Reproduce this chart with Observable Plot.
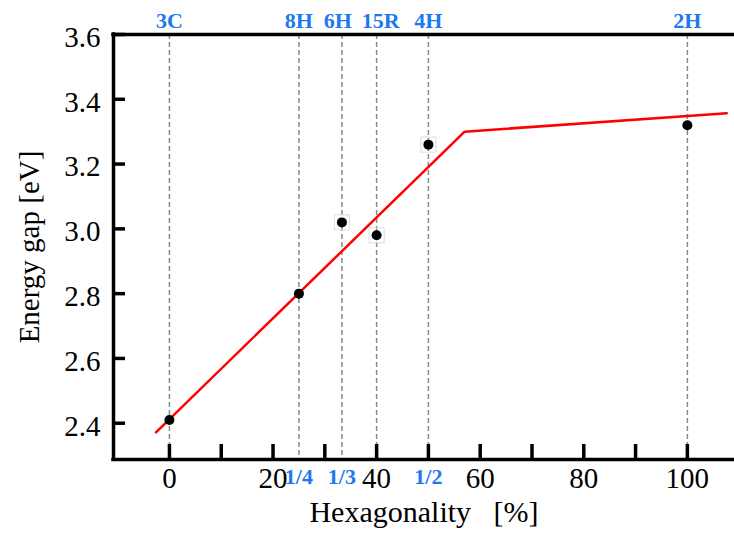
<!DOCTYPE html>
<html><head><meta charset="utf-8">
<script src="https://cdn.jsdelivr.net/npm/d3@7"></script>
<script src="https://cdn.jsdelivr.net/npm/@observablehq/plot@0.6"></script>
<style>body{margin:0;background:#fff} svg text{font-family:"Liberation Serif";}</style>
</head><body><div id="chart"></div>
<script>
// Data
const polytypes = ["3C", "8H", "6H", "15R", "4H", "2H"];
const hexagonality = [0, 25, 33.3, 40, 50, 100];
const energyGap = [2.41, 2.80, 3.02, 2.98, 3.26, 3.32];
const boxedPolytypes = ["6H", "15R", "4H"];
const fractionLabels = ["1/4", "1/3", "1/2"];
const fractionValues = [25, 33.3, 50];
const fitX = [-2.6, 57, 107.6];
const fitY = [2.372, 3.30, 3.357];
const xTickLabels = [0, 20, 40, 60, 80, 100];
const xTickMarks = [0, 10, 20, 30, 40, 50, 60, 70, 80, 90, 100];
const yTickLabels = [2.4, 2.6, 2.8, 3.0, 3.2, 3.4, 3.6];
const xDomain = [-10.8, 109.1];
const yDomain = [2.288, 3.6];

const points = polytypes.map((p, i) => ({label: p, x: hexagonality[i], y: energyGap[i]}));
const boxed = points.filter(d => boxedPolytypes.includes(d.label));
const fractions = fractionLabels.map((t, i) => ({text: t, x: fractionValues[i]}));
const fit = fitX.map((x, i) => ({x, y: fitY[i]}));

const W = 734, H = 538, mL = 113, mR = 0, mT = 34, mB = 79;
const serif = "Liberation Serif";
const blue = "#1e78f0";
const topLabel = {x: "x", text: "label", frameAnchor: "top", lineAnchor: "middle", dy: -14, fill: blue, fontWeight: "bold", fontSize: 22, fontFamily: serif};

const chart = Plot.plot({
  width: W, height: H,
  marginLeft: mL, marginRight: mR, marginTop: mT, marginBottom: mB,
  style: {fontFamily: serif, background: "#fff"},
  x: {domain: xDomain, label: null},
  y: {domain: yDomain, label: null},
  marks: [
    Plot.ruleX(points, {x: "x", stroke: "#888", strokeWidth: 1.5, strokeDasharray: "5,3"}),
    Plot.line(fit, {x: "x", y: "y", stroke: "#ff0000", strokeWidth: 2.5}),
    Plot.dot(boxed, {x: "x", y: "y", symbol: "square", r: 8.5, stroke: "#dcdcdc", strokeWidth: 1, fill: "none"}),
    Plot.dot(points, {x: "x", y: "y", r: 5, fill: "black"}),
    // axis lines
    Plot.ruleY([yDomain[0], yDomain[1]], {y: d => d, stroke: "black", strokeWidth: 3.5, strokeLinecap: "square"}),
    Plot.ruleX([xDomain[0]], {x: d => d, stroke: "black", strokeWidth: 3.5, strokeLinecap: "square"}),
    // inward ticks
    Plot.tickX(xTickMarks, {x: d => d, stroke: "black", strokeWidth: 3.5, insetTop: (H - mT - mB) - 15}),
    Plot.tickY(yTickLabels, {y: d => d, stroke: "black", strokeWidth: 3.5, insetRight: (W - mL - mR) - 12}),
    // tick labels
    Plot.axisX(xTickLabels, {tickSize: 0, tickPadding: 8, fontSize: 29, fontFamily: serif, fontVariant: "normal", label: null}),
    Plot.axisY(yTickLabels, {tickSize: 0, tickPadding: 13, fontSize: 29, fontFamily: serif, fontVariant: "normal", dy: 3, tickFormat: d => d.toFixed(1), label: null}),
    // polytype labels
    Plot.text(points, {...topLabel, filter: d => d.label !== "6H" && d.label !== "15R"}),
    Plot.text(points, {...topLabel, filter: d => d.label === "6H", dx: -4}),
    Plot.text(points, {...topLabel, filter: d => d.label === "15R", dx: 4}),
    Plot.text(fractions, {x: "x", text: "text", frameAnchor: "bottom", lineAnchor: "middle", dy: 17, fill: blue, fontWeight: "bold", fontSize: 22, fontFamily: serif}),
    // axis titles
    Plot.text(["Energy gap [eV]"], {frameAnchor: "left", textAnchor: "middle", lineAnchor: "middle", dx: -84, dy: 0, rotate: -90, fontSize: 29, fontFamily: serif, fill: "black"}),
    Plot.text(["Hexagonality\u00a0\u00a0\u00a0[%]"], {frameAnchor: "bottom", textAnchor: "middle", lineAnchor: "middle", dy: 53, fontSize: 30, fontFamily: serif, fill: "black"})
  ]
});
document.getElementById("chart").appendChild(chart);
</script>
</body></html>
